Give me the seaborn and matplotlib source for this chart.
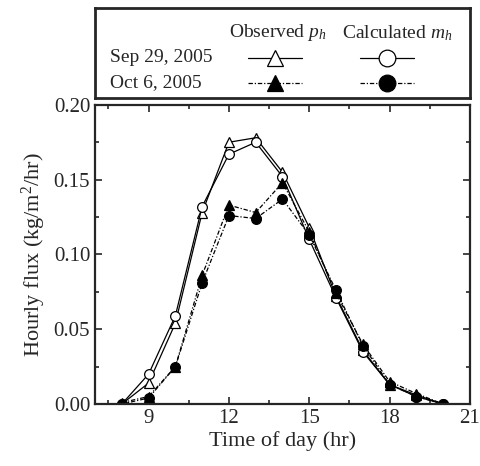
import matplotlib as mpl
mpl.use('Agg')
import matplotlib.pyplot as plt
import numpy as np
import pandas as pd
import seaborn as sns
from matplotlib.lines import Line2D

sns.set_style('ticks')
plt.rcParams['font.family'] = ['Liberation Serif', 'DejaVu Serif']
plt.rcParams['mathtext.fontset'] = 'custom'
plt.rcParams['mathtext.rm'] = 'Liberation Serif'
plt.rcParams['mathtext.it'] = 'Liberation Serif:italic'
FS = 14

hours = [8, 9, 10, 11, 12, 13, 14, 15, 16, 17, 18, 19, 20]
sep_observed = [0.000, 0.014, 0.054, 0.128, 0.175, 0.178, 0.155, 0.118, 0.072, 0.036, 0.013, 0.006, 0.000]
sep_calculated = [0.000, 0.020, 0.059, 0.132, 0.167, 0.175, 0.152, 0.110, 0.071, 0.035, 0.013, 0.005, 0.000]
oct_observed = [0.001, 0.005, 0.025, 0.086, 0.133, 0.128, 0.148, 0.115, 0.074, 0.040, 0.015, 0.007, 0.000]
oct_calculated = [0.000, 0.004, 0.025, 0.081, 0.126, 0.124, 0.137, 0.113, 0.076, 0.039, 0.013, 0.005, 0.000]

DASHDOT = (0, (3.5, 1.5, 1, 1.5))
series = [
    (sep_observed, '^', 'white', '-'),
    (sep_calculated, 'o', 'white', '-'),
    (oct_observed, '^', 'black', DASHDOT),
    (oct_calculated, 'o', 'black', DASHDOT),
]

fig = plt.figure(figsize=(4.8, 4.66), dpi=100)
ax = fig.add_axes([0.198, 0.133, 0.781, 0.642])

for values, marker, face, ls in series:
    df = pd.DataFrame({'hour': hours, 'flux': values})
    sns.lineplot(data=df, x='hour', y='flux', ax=ax, color='black', linewidth=0.9,
                 linestyle=ls, marker=marker, markersize=7, markerfacecolor=face,
                 markeredgecolor='black', markeredgewidth=0.9)

ax.set_xlim(7, 21)
ax.set_ylim(0, 0.20)
ax.set_xticks([9, 12, 15, 18, 21])
ax.set_xticks(np.arange(7.5, 21, 1.5), minor=True)
ax.set_yticks([0.00, 0.05, 0.10, 0.15, 0.20])
ax.set_yticks(np.arange(0.025, 0.2, 0.05), minor=True)
ax.yaxis.set_major_formatter(mpl.ticker.FormatStrFormatter('%.2f'))
ax.tick_params(which='both', direction='in', top=True, right=True, labelsize=15, width=1.2)
ax.tick_params(which='major', length=5)
ax.tick_params(which='minor', length=3)
for sp in ax.spines.values():
    sp.set_linewidth(1.6)
ax.set_xlabel('Time of day (hr)', fontsize=16, labelpad=2)
ax.set_ylabel('Hourly flux (kg/m$^2$/hr)', fontsize=16, labelpad=4)

# legend panel
lax = fig.add_axes([0.198, 0.79, 0.781, 0.193])
lax.set_xlim(95, 470)
lax.set_ylim(98, 8)
lax.set_xticks([])
lax.set_yticks([])
for sp in lax.spines.values():
    sp.set_linewidth(2)
lax.text(278, 33, 'Observed $p_h$', ha='center', va='center', fontsize=FS)
lax.text(397, 33, 'Calculated $m_h$', ha='center', va='center', fontsize=FS)
lax.text(110, 58, 'Sep 29, 2005', ha='left', va='center', fontsize=FS)
lax.text(110, 83, 'Oct 6, 2005', ha='left', va='center', fontsize=FS)
rows = {0: 58, 1: 58, 2: 83, 3: 83}
cols = {0: 275, 1: 387, 2: 275, 3: 387}
for i, (values, marker, face, ls) in enumerate(series):
    cx, cy = cols[i], rows[i]
    lax.add_line(Line2D([cx - 27, cx + 27], [cy, cy], color='black', linewidth=0.9, linestyle=ls))
    lax.add_line(Line2D([cx], [cy], marker=marker, markersize=12, markerfacecolor=face,
                        markeredgecolor='black', markeredgewidth=0.9, linestyle='none'))

fig.savefig('out.png', dpi=100)
